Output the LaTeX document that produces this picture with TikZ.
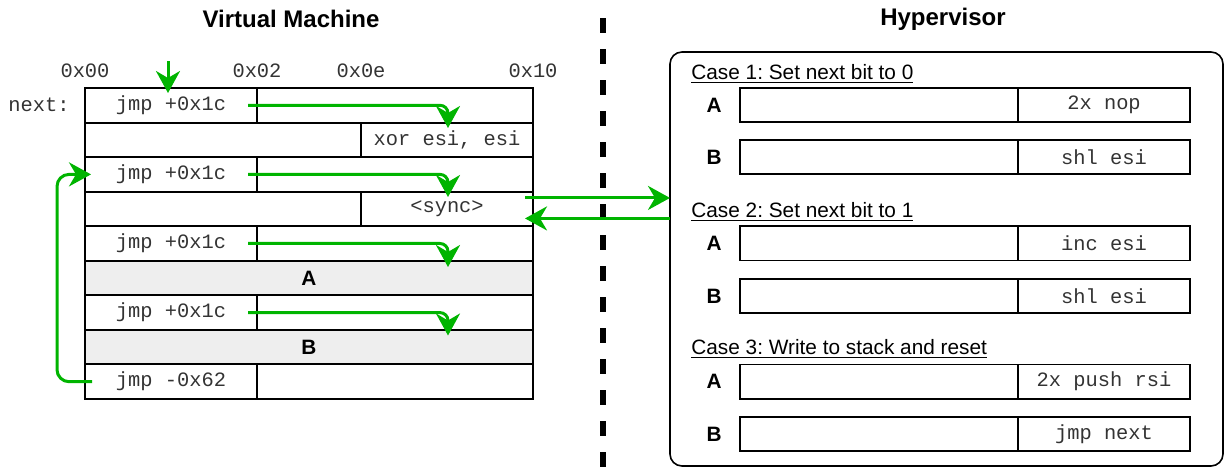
\documentclass[tikz,border=0pt]{standalone}
\usepackage{fontspec}
\setmainfont{Liberation Sans}
\setmonofont{Liberation Mono}
\usetikzlibrary{arrows.meta}
\frenchspacing
\definecolor{flowgreen}{RGB}{0,180,0}
\definecolor{rowgray}{RGB}{238,238,238}
\tikzset{
  code/.style={font=\ttfamily\fontsize{10.2}{12}\selectfont, text=black!80},
  cell/.style={draw, line width=1pt, anchor=north west, minimum height=17.275pt, inner sep=0pt, outer sep=0pt, code},
  shade/.style={cell, fill=rowgray, minimum width=224pt, font=\bfseries\fontsize{10.4}{12}\selectfont, text=black},
  hcell/.style={cell, line width=0.9pt, minimum height=17.1pt},
  tag/.style={font=\bfseries\fontsize{10.4}{12}\selectfont},
  case/.style={font=\fontsize{10.4}{12}\selectfont, anchor=base west, inner sep=0pt},
  title/.style={font=\bfseries\fontsize{12}{14}\selectfont},
  flow/.style={draw=flowgreen, line width=1.5pt, rounded corners=4pt, -{Stealth[length=11pt,width=12pt,inset=3.5pt]}},
}
\begin{document}
\begin{tikzpicture}[x=0.5pt,y=-0.5pt]
  \useasboundingbox (0,0) rectangle (1225,468);
  % titles and divider
  \node[title] (vm) at (291,19) {Virtual Machine};
  \node[title] (hvt) at (943,19) {Hypervisor};
  \draw[line width=2.6pt, dash pattern=on 7.25pt off 8.25pt] (603,18) -- (603,468);
  % offsets
  \node[code] (o00) at (85,71) {0x00};
  \node[code] (o02) at (257,71) {0x02};
  \node[code] (o0e) at (361,71) {0x0e};
  \node[code] (o10) at (533,71) {0x10};
  \node[code, anchor=east, inner sep=0pt] (nx) at (70,105) {next:};
  % virtual machine memory
  \node[cell, minimum width=86pt] (j1) at (85,88) {jmp +0x1c};
  \node[cell, minimum width=138pt] (e1) at (257,88) {};
  \node[cell, minimum width=138pt] (e2) at (85,122.55) {};
  \node[cell, minimum width=86pt] (xor) at (361,122.55) {xor esi, esi};
  \node[cell, minimum width=86pt] (j3) at (85,157.1) {jmp +0x1c};
  \node[cell, minimum width=138pt] (e3) at (257,157.1) {};
  \node[cell, minimum width=138pt] (e4) at (85,191.65) {};
  \node[cell, minimum width=86pt] (sync) at (361,191.65) {<sync>};
  \node[cell, minimum width=86pt] (j5) at (85,226.2) {jmp +0x1c};
  \node[cell, minimum width=138pt] (e5) at (257,226.2) {};
  \node[shade] (ra) at (85,260.75) {A};
  \node[cell, minimum width=86pt] (j7) at (85,295.3) {jmp +0x1c};
  \node[cell, minimum width=138pt] (e7) at (257,295.3) {};
  \node[shade] (rb) at (85,329.85) {B};
  \node[cell, minimum width=86pt] (j9) at (85,364.4) {jmp -0x62};
  \node[cell, minimum width=138pt] (e9) at (257,364.4) {};
  % jumps
  \coordinate (entry) at (168,61);
  \coordinate (t1) at (448,128);
  \coordinate (t3) at (448,197);
  \coordinate (t5) at (448,267);
  \coordinate (t7) at (448,335.5);
  \coordinate (loop) at (57,280);
  \draw[flow] (entry) -- ([yshift=-2.5pt]entry |- j1.north);
  \draw[flow] ([xshift=-4.5pt]j1.east) -| (t1);
  \draw[flow] ([xshift=-4.5pt]j3.east) -| (t3);
  \draw[flow] ([xshift=-4.5pt]j5.east) -| (t5);
  \draw[flow] ([xshift=-4.5pt]j7.east) -| (t7);
  \draw[flow, rounded corners=6pt] ([xshift=3.5pt]j9.west) -| (loop) |- ([xshift=3pt]j3.west);
  % hypervisor
  \node[draw, line width=0.8pt, rounded corners=6pt, anchor=north west, minimum width=276.5pt, minimum height=207pt, inner sep=0pt, outer sep=0pt] (hv) at (670,52) {};
  \node[case] (c1) at (691,79) {\underline{Case 1: Set next bit to 0}};
  \node[case] (c2) at (691,217) {\underline{Case 2: Set next bit to 1}};
  \node[case] (c3) at (691,354) {\underline{Case 3: Write to stack and reset}};
  \foreach \y/\t/\op/\nm in {88/A/2x nop/c1a, 140/B/shl esi/c1b, 226.2/A/inc esi/c2a, 279/B/shl esi/c2b, 364.4/A/2x push rsi/c3a, 417/B/jmp next/c3b}{
    \node[hcell, minimum width=139pt] (\nm-l) at (740,\y) {};
    \node[hcell, minimum width=86pt] (\nm-r) at (1018,\y) {\op};
    \node[tag] (\nm-t) at (714,\y+17.2) {\t};
  }
  % sync
  \coordinate (s1) at ([shift={(-4pt,5.5pt)}]sync.east);
  \coordinate (s2) at ([shift={(-4pt,-4.75pt)}]sync.east);
  \draw[flow] (s1) -- (s1 -| hv.west);
  \draw[flow] (s2 -| hv.west) -- (s2);
\end{tikzpicture}
\end{document}
